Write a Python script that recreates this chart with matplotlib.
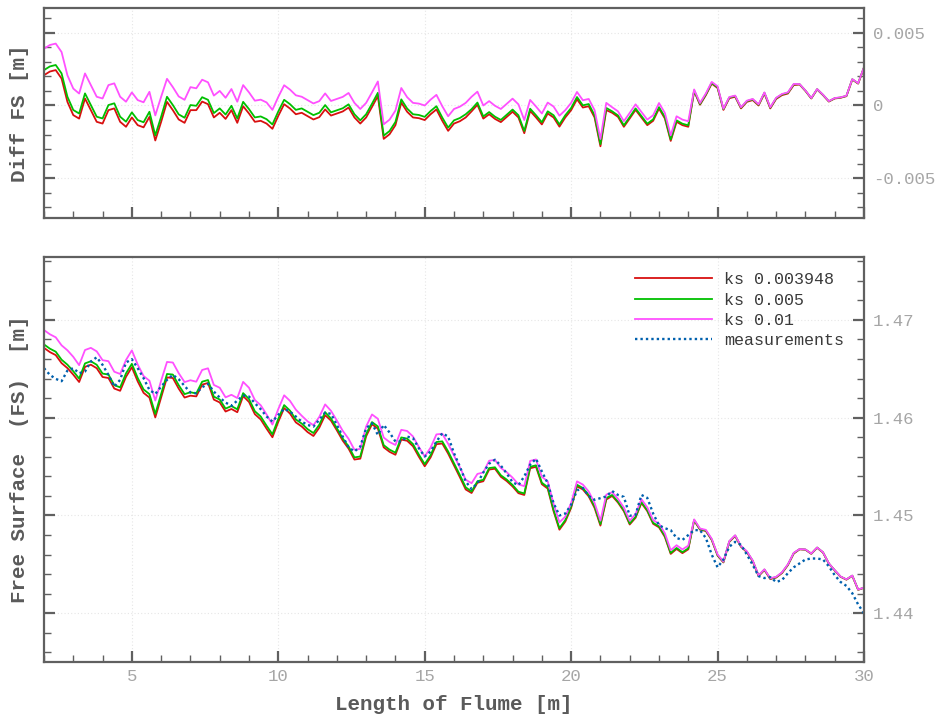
import numpy as np
import matplotlib
matplotlib.use("Agg")
import matplotlib.pyplot as plt
from matplotlib.ticker import MultipleLocator, FuncFormatter

# ---------------- data ----------------
x_pos = [2.0, 2.2, 2.4, 2.6, 2.8, 3.0, 3.2, 3.4, 3.6, 3.8,
         4.0, 4.2, 4.4, 4.6, 4.8, 5.0, 5.2, 5.4, 5.6, 5.8,
         6.0, 6.2, 6.4, 6.6, 6.8, 7.0, 7.2, 7.4, 7.6, 7.8,
         8.0, 8.2, 8.4, 8.6, 8.8, 9.0, 9.2, 9.4, 9.6, 9.8,
         10.0, 10.2, 10.4, 10.6, 10.8, 11.0, 11.2, 11.4, 11.6, 11.8,
         12.0, 12.2, 12.4, 12.6, 12.8, 13.0, 13.2, 13.4, 13.6, 13.8,
         14.0, 14.2, 14.4, 14.6, 14.8, 15.0, 15.2, 15.4, 15.6, 15.8,
         16.0, 16.2, 16.4, 16.6, 16.8, 17.0, 17.2, 17.4, 17.6, 17.8,
         18.0, 18.2, 18.4, 18.6, 18.8, 19.0, 19.2, 19.4, 19.6, 19.8,
         20.0, 20.2, 20.4, 20.6, 20.8, 21.0, 21.2, 21.4, 21.6, 21.8,
         22.0, 22.2, 22.4, 22.6, 22.8, 23.0, 23.2, 23.4, 23.6, 23.8,
         24.0, 24.2, 24.4, 24.6, 24.8, 25.0, 25.2, 25.4, 25.6, 25.8,
         26.0, 26.2, 26.4, 26.6, 26.8, 27.0, 27.2, 27.4, 27.6, 27.8,
         28.0, 28.2, 28.4, 28.6, 28.8, 29.0, 29.2, 29.4, 29.6, 29.8,
         30.0]

# measured free surface [m]
measurements = [1.46506, 1.46438, 1.46397, 1.46373, 1.46482, 1.46506, 1.46455, 1.46472, 1.46574, 1.46618,
                1.46540, 1.46438, 1.46318, 1.46387, 1.46564, 1.46598, 1.46506, 1.46404, 1.46284, 1.46243,
                1.46318, 1.46387, 1.46438, 1.46393, 1.46325, 1.46257, 1.46250, 1.46311, 1.46346, 1.46267,
                1.46206, 1.46155, 1.46121, 1.46175, 1.46226, 1.46216, 1.46148, 1.46087, 1.46012, 1.45960,
                1.46029, 1.46090, 1.46063, 1.46012, 1.45960, 1.45926, 1.45909, 1.45978, 1.46053, 1.46039,
                1.45926, 1.45807, 1.45698, 1.45654, 1.45705, 1.45892, 1.45943, 1.45824, 1.45926, 1.45848,
                1.45756, 1.45756, 1.45807, 1.45790, 1.45688, 1.45603, 1.45654, 1.45756, 1.45841, 1.45807,
                1.45637, 1.45500, 1.45348, 1.45270, 1.45330, 1.45440, 1.45530, 1.45570, 1.45510, 1.45430,
                1.45340, 1.45310, 1.45400, 1.45520, 1.45580, 1.45450, 1.45330, 1.45126, 1.45000, 1.45020,
                1.45110, 1.45256, 1.45280, 1.45200, 1.45160, 1.45177, 1.45195, 1.45250, 1.45210, 1.45190,
                1.44997, 1.45007, 1.45210, 1.45180, 1.45020, 1.44900, 1.44870, 1.44850, 1.44770, 1.44750,
                1.44800, 1.44850, 1.44850, 1.44770, 1.44600, 1.44470, 1.44550, 1.44680, 1.44730, 1.44700,
                1.44600, 1.44495, 1.44380, 1.44360, 1.44370, 1.44320, 1.44340, 1.44410, 1.44470, 1.44510,
                1.44550, 1.44560, 1.44560, 1.44550, 1.44480, 1.44390, 1.44320, 1.44280, 1.44205, 1.44090,
                1.44000]

# simulated minus measured free surface [mm]
diff_ks_003948 = [2.08, 2.33, 2.43, 1.85, 0.25, -0.66, -0.90, 0.48, -0.32, -1.12,
                  -1.24, -0.32, -0.20, -1.12, -1.46, -0.82, -1.35, -1.50, -0.78, -2.40,
                  -1.12, 0.25, -0.32, -0.96, -1.19, -0.32, -0.32, 0.27, 0.09, -0.82,
                  -0.50, -0.92, -0.32, -1.19, -0.05, -0.55, -1.12, -1.05, -1.24, -1.60,
                  -0.71, 0.09, -0.21, -0.60, -0.50, -0.73, -0.96, -0.80, -0.27, -0.69,
                  -0.55, -0.41, -0.14, -0.82, -1.24, -0.82, -0.10, 0.65, -2.29, -1.97,
                  -1.35, 0.20, -0.43, -0.82, -0.87, -1.00, -0.60, -0.27, -1.05, -1.74,
                  -1.24, -1.08, -0.82, -0.40, 0.05, -0.90, -0.60, -0.92, -1.14, -0.78,
                  -0.43, -0.82, -1.90, -0.37, -0.82, -1.30, -0.55, -0.82, -1.45, -0.82,
                  -0.32, 0.43, -0.14, -0.05, -0.82, -2.80, -0.32, -0.50, -0.78, -1.46,
                  -0.89, -0.30, -0.82, -1.35, -1.05, -0.21, -0.89, -2.43, -1.12, -1.35,
                  -1.46, 0.98, 0.05, 0.71, 1.50, 1.20, -0.30, 0.50, 0.60, -0.20,
                  0.25, 0.37, 0.00, 0.82, -0.20, 0.45, 0.71, 0.82, 1.40, 1.44,
                  1.00, 0.48, 1.10, 0.71, 0.27, 0.48, 0.53, 0.64, 1.78, 1.50,
                  2.60]

diff_ks_005 = [2.43, 2.68, 2.78, 2.20, 0.60, -0.31, -0.55, 0.83, 0.03, -0.77,
               -0.89, 0.03, 0.15, -0.77, -1.11, -0.47, -1.00, -1.15, -0.43, -2.05,
               -0.77, 0.60, 0.03, -0.61, -0.84, 0.03, -0.02, 0.57, 0.39, -0.52,
               -0.20, -0.62, -0.02, -0.89, 0.25, -0.25, -0.82, -0.75, -0.94, -1.30,
               -0.41, 0.39, 0.09, -0.30, -0.20, -0.43, -0.66, -0.50, 0.03, -0.47,
               -0.33, -0.19, 0.08, -0.60, -1.02, -0.60, 0.12, 0.87, -2.07, -1.75,
               -1.13, 0.42, -0.21, -0.60, -0.65, -0.78, -0.38, -0.05, -0.83, -1.52,
               -1.02, -0.86, -0.60, -0.25, 0.20, -0.75, -0.45, -0.77, -0.99, -0.63,
               -0.28, -0.67, -1.75, -0.22, -0.67, -1.15, -0.40, -0.67, -1.30, -0.67,
               -0.17, 0.58, 0.01, 0.10, -0.67, -2.65, -0.17, -0.40, -0.68, -1.36,
               -0.79, -0.20, -0.72, -1.25, -0.95, -0.11, -0.79, -2.33, -1.02, -1.25,
               -1.36, 1.03, 0.10, 0.76, 1.55, 1.25, -0.25, 0.55, 0.65, -0.15,
               0.30, 0.42, 0.05, 0.87, -0.15, 0.50, 0.76, 0.87, 1.45, 1.46,
               1.02, 0.50, 1.12, 0.73, 0.29, 0.50, 0.55, 0.66, 1.80, 1.52,
               2.62]

diff_ks_001 = [3.90, 4.15, 4.25, 3.67, 2.07, 1.16, 0.82, 2.20, 1.40, 0.60,
               0.48, 1.40, 1.52, 0.60, 0.26, 0.90, 0.37, 0.22, 0.94, -0.68,
               0.60, 1.83, 1.26, 0.62, 0.39, 1.26, 1.18, 1.77, 1.59, 0.68,
               1.00, 0.53, 1.13, 0.26, 1.40, 0.90, 0.33, 0.40, 0.21, -0.30,
               0.59, 1.39, 1.09, 0.70, 0.60, 0.37, 0.14, 0.30, 0.83, 0.31,
               0.45, 0.59, 0.86, 0.18, -0.24, 0.18, 0.90, 1.65, -1.29, -0.97,
               -0.35, 1.20, 0.57, 0.18, 0.13, 0.00, 0.40, 0.73, -0.05, -0.74,
               -0.24, -0.08, 0.18, 0.60, 0.95, 0.00, 0.30, -0.02, -0.24, 0.12,
               0.47, 0.08, -1.00, 0.38, -0.07, -0.55, 0.20, -0.07, -0.70, -0.32,
               0.18, 0.93, 0.36, 0.45, -0.32, -2.30, 0.18, -0.12, -0.40, -1.08,
               -0.51, 0.08, -0.44, -0.97, -0.67, 0.17, -0.51, -2.05, -0.74, -0.97,
               -1.08, 1.10, 0.17, 0.83, 1.62, 1.32, -0.22, 0.58, 0.68, -0.12,
               0.33, 0.45, 0.08, 0.90, -0.12, 0.53, 0.79, 0.90, 1.48, 1.47,
               1.03, 0.51, 1.13, 0.74, 0.30, 0.51, 0.56, 0.67, 1.81, 1.53,
               2.63]

labels = ["ks 0.003948", "ks 0.005", "ks 0.01", "measurements"]
colors = ["#d81010", "#00c000", "#ff50ff", "#0060ad"]

# ---------------- plot ----------------
plt.rcParams["font.family"] = ["Liberation Mono", "DejaVu Sans Mono"]
plt.rcParams["axes.unicode_minus"] = False

x = np.array(x_pos)
meas = np.array(measurements)
diffs = [np.array(d) * 1e-3 for d in (diff_ks_003948, diff_ks_005, diff_ks_001)]

W, H = 939, 716
fig = plt.figure(figsize=(W / 100, H / 100), dpi=100)
L, R = 44, 864
ax1 = fig.add_axes([L / W, 1 - 217.7 / H, (R - L) / W, (217.7 - 8.3) / H])
ax2 = fig.add_axes([L / W, 1 - 661.7 / H, (R - L) / W, (661.7 - 257.3) / H])

spine_c = "#606060"
tick_lbl_c = "#a6a6a6"
label_c = "#5a5a5a"


def fmt(v, pos):
    if abs(v) < 1e-12:
        return "0"
    return f"{v:g}"


def style(ax, ymaj, ymin):
    ax.set_xlim(2, 30)
    ax.xaxis.set_major_locator(MultipleLocator(5))
    ax.xaxis.set_minor_locator(MultipleLocator(1))
    ax.yaxis.set_major_locator(MultipleLocator(ymaj))
    ax.yaxis.set_minor_locator(MultipleLocator(ymin))
    ax.yaxis.set_major_formatter(FuncFormatter(fmt))
    for s in ax.spines.values():
        s.set_color(spine_c)
        s.set_linewidth(1.6)
    ax.tick_params(which="both", direction="in", color=spine_c,
                   left=True, right=True, top=False, bottom=True,
                   labelleft=False, labelright=True)
    ax.tick_params(which="major", length=8, width=1.6, pad=6.5,
                   labelsize=12.5, labelcolor=tick_lbl_c)
    ax.tick_params(which="minor", length=4.8, width=1.0)
    ax.tick_params(axis="x", which="major", pad=5)
    ax.grid(True, which="major", color="#e6e6e6", linestyle=(0, (1, 2)), linewidth=0.8)
    ax.set_axisbelow(True)


style(ax1, 0.005, 0.001)
style(ax2, 0.01, 0.002)
ax1.tick_params(axis="x", labelbottom=False)
ax1.set_ylim(-0.0077, 0.00667)
ax2.set_ylim(1.43505, 1.4764)

lw = 1.3
for d, c, lab in zip(diffs, colors[:3], labels[:3]):
    ax1.plot(x, d, color=c, lw=lw)
    ax2.plot(x, meas + d, color=c, lw=lw, label=lab)
ax2.plot(x, meas, color=colors[3], lw=1.7, linestyle=(0, (1, 1.3)), label=labels[3])

lab_font = dict(fontsize=15, fontweight="bold", color=label_c)
ax1.set_ylabel("Diff FS [m]", **lab_font)
ax2.set_ylabel("Free Surface  (FS)  [m]", **lab_font)
ax2.set_xlabel("Length of Flume [m]", labelpad=8, **lab_font)
ax1.yaxis.set_label_coords(-0.018, 0.5)
ax2.yaxis.set_label_coords(-0.018, 0.5)

leg = ax2.legend(loc="upper left", bbox_to_anchor=(0.7207, 0.963), frameon=False,
                 borderpad=0, borderaxespad=0, handlelength=4.6, handletextpad=0.75,
                 labelspacing=0.32, fontsize=12)
for t in leg.get_texts():
    t.set_color("#3a3a3a")

fig.savefig("out.png", dpi=100)
